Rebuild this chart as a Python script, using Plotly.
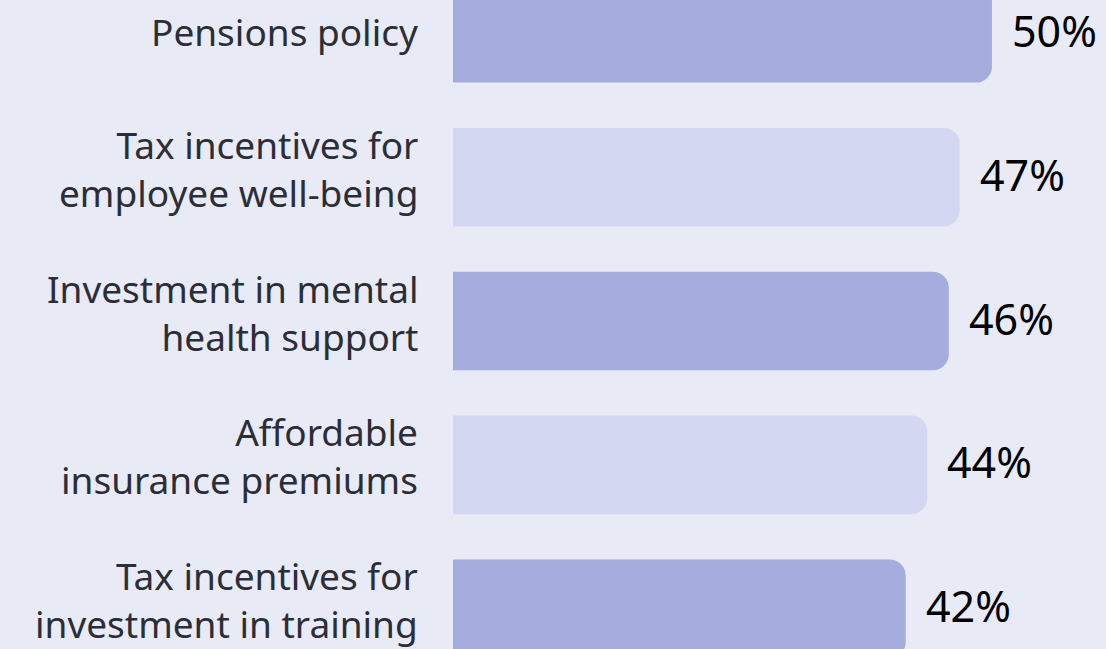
import plotly.graph_objects as go

categories = [
    "Pensions policy",
    "Tax incentives for<br>employee well-being",
    "Investment in mental<br>health support",
    "Affordable<br>insurance premiums",
    "Tax incentives for<br>investment in training",
]
values = [50, 47, 46, 44, 42]
value_labels = ["50%", "47%", "46%", "44%", "42%"]
bar_colors = ["#A5ADDE", "#D3D7F1", "#A5ADDE", "#D3D7F1", "#A5ADDE"]

BG = "#E8EAF6"
LABEL_COLOR = "#2B2E36"
LABEL_SIZE = 37
VALUE_SIZE = 43

ypos = list(range(len(categories)))

fig = go.Figure()
fig.add_trace(go.Bar(
    x=values,
    y=ypos,
    orientation="h",
    width=0.685,
    marker=dict(color=bar_colors, cornerradius=16, line=dict(width=0)),
    hoverinfo="skip",
))

# value labels to the right of each bar
for i, (v, t) in enumerate(zip(values, value_labels)):
    fig.add_annotation(
        x=v, y=ypos[i], text=t, xanchor="left", yanchor="middle",
        xshift=18, yshift=3, showarrow=False,
        font=dict(family="Noto Sans", size=VALUE_SIZE, color="#000000"),
    )

# category labels, right-aligned left of the bars
for i, lab in enumerate(categories):
    n = lab.count("<br>") + 1
    base_off = 13 if n == 1 else 5.5
    fig.add_annotation(
        x=0, y=ypos[i], text=lab, xanchor="right", yanchor="middle",
        xshift=-33, yshift=-(base_off - 14.4), showarrow=False, align="right",
        font=dict(family="Noto Sans", size=LABEL_SIZE, color=LABEL_COLOR),
    )

fig.update_layout(
    width=1106, height=649,
    margin=dict(l=453, r=0, t=0, b=0),
    paper_bgcolor=BG, plot_bgcolor=BG,
    showlegend=False,
    xaxis=dict(range=[0, 60.58], visible=False, fixedrange=True),
    yaxis=dict(range=[4.280, -0.2315], visible=False, fixedrange=True),
)

fig.write_html(
    "out.html",
    config={"displayModeBar": False, "staticPlot": True},
    post_script="document.body.style.margin='0';document.body.style.background='%s';" % BG,
)
